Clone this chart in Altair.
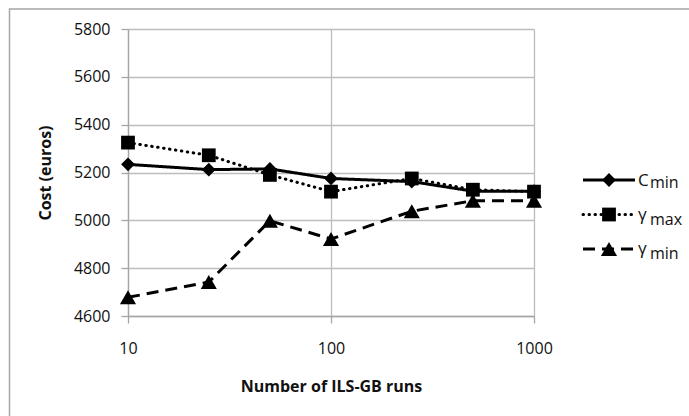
import altair as alt
import pandas as pd

# ---- data ----
runs = [10, 25, 50, 100, 250, 500, 1000]
c_min = [5234, 5212, 5215, 5175, 5162, 5122, 5122]
gamma_max = [5325, 5272, 5190, 5120, 5175, 5128, 5120]
gamma_min = [4678, 4742, 4998, 4922, 5038, 5082, 5082]

y_ticks = [4600, 4800, 5000, 5200, 5400, 5600, 5800]
x_ticks = [10, 100, 1000]

legend_main = ["C", "γ", "γ"]
legend_sub = ["min", "max", "min"]

# ---- styles ----
FONT = "Open Sans"
GRID = "#bdbdbd"
DOMAIN = "#a6a6a6"
shapes = ["diamond", "square", "triangle-up"]
sizes = [190, 190, 260]
dashes = [[1, 0], [0.5, 5.5], [12, 7]]
caps = ["butt", "round", "butt"]

W, H = 406, 287

x_scale = alt.Scale(type="log", domain=[10, 1000], nice=False)
y_scale = alt.Scale(domain=[4600, 5800], nice=False, zero=False)

x_axis = alt.Axis(
    values=x_ticks, format="d", title="Number of ILS-GB runs",
    grid=True, gridColor=GRID, gridWidth=1.3,
    domainColor=DOMAIN, domainWidth=1.3, tickColor=DOMAIN, tickWidth=1.3, tickSize=7,
    labelFont=FONT, labelFontSize=16, labelColor="#111111", labelPadding=17, labelFlush=False,
    titleFont=FONT, titleFontSize=16, titleFontWeight="bold", titleColor="#111111",
    titleX=W / 2, titleY=70, titleBaseline="middle", titleAlign="center",
)
y_axis = alt.Axis(
    values=y_ticks, format="d", title="Cost (euros)",
    grid=True, gridColor=GRID, gridWidth=1.3,
    domainColor=DOMAIN, domainWidth=1.3, tickColor=DOMAIN, tickWidth=1.3, tickSize=7,
    labelFont=FONT, labelFontSize=16, labelColor="#111111", labelPadding=11,
    titleFont=FONT, titleFontSize=16, titleFontWeight="bold", titleColor="#111111",
    titleX=-83, titleY=H / 2, titleAngle=270, titleAlign="center", titleBaseline="middle",
)

one = pd.DataFrame({"k": [0]})

# outer chart border (only the left and top edges are visible in the window)
border = alt.Chart(one).mark_rect(fillOpacity=0, stroke="#a6a6a6", strokeWidth=1.5).encode(
    x=alt.value(-118.5), x2=alt.value(800), y=alt.value(-20), y2=alt.value(600)
)

layers = [border]
all_series = [c_min, gamma_max, gamma_min]
for i, vals in enumerate(all_series):
    df = pd.DataFrame({"runs": runs, "cost": vals})
    base = alt.Chart(df).encode(
        x=alt.X("runs:Q", scale=x_scale, axis=x_axis),
        y=alt.Y("cost:Q", scale=y_scale, axis=y_axis),
    )
    line = base.mark_line(color="black", strokeWidth=3, strokeDash=dashes[i], strokeCap=caps[i])
    pts = base.mark_point(shape=shapes[i], size=sizes[i], filled=True, color="black", opacity=1)
    layers += [line, pts]

# ---- legend ----
for i in range(3):
    ly = 151 + 34.5 * i
    ldf = pd.DataFrame({"main": [legend_main[i]], "sub": [legend_sub[i]]})
    lc = alt.Chart(ldf)
    layers.append(lc.mark_rule(color="black", strokeWidth=3, strokeDash=dashes[i], strokeCap=caps[i]).encode(
        x=alt.value(455), x2=alt.value(507), y=alt.value(ly)))
    layers.append(lc.mark_point(shape=shapes[i], size=sizes[i], filled=True, color="black", opacity=1).encode(
        x=alt.value(481), y=alt.value(ly)))
    main_off = 6 if i == 0 else 5
    sub_off = 8 if i == 0 else 10
    layers.append(lc.mark_text(font=FONT, fontSize=17, align="left", baseline="alphabetic", color="#111111").encode(
        x=alt.value(510), y=alt.value(ly + main_off), text="main:N"))
    layers.append(lc.mark_text(font=FONT, fontSize=16, align="left", baseline="alphabetic", color="#111111").encode(
        x=alt.value(522), y=alt.value(ly + sub_off), text="sub:N"))

chart = alt.layer(*layers).properties(
    width=W, height=H,
    autosize=alt.AutoSizeParams(type="none"),
    padding={"left": 128, "top": 29, "right": 155, "bottom": 100},
    background="white",
).configure_view(stroke=None)

chart.save("out.html", embed_options={"renderer": "svg", "actions": False})
